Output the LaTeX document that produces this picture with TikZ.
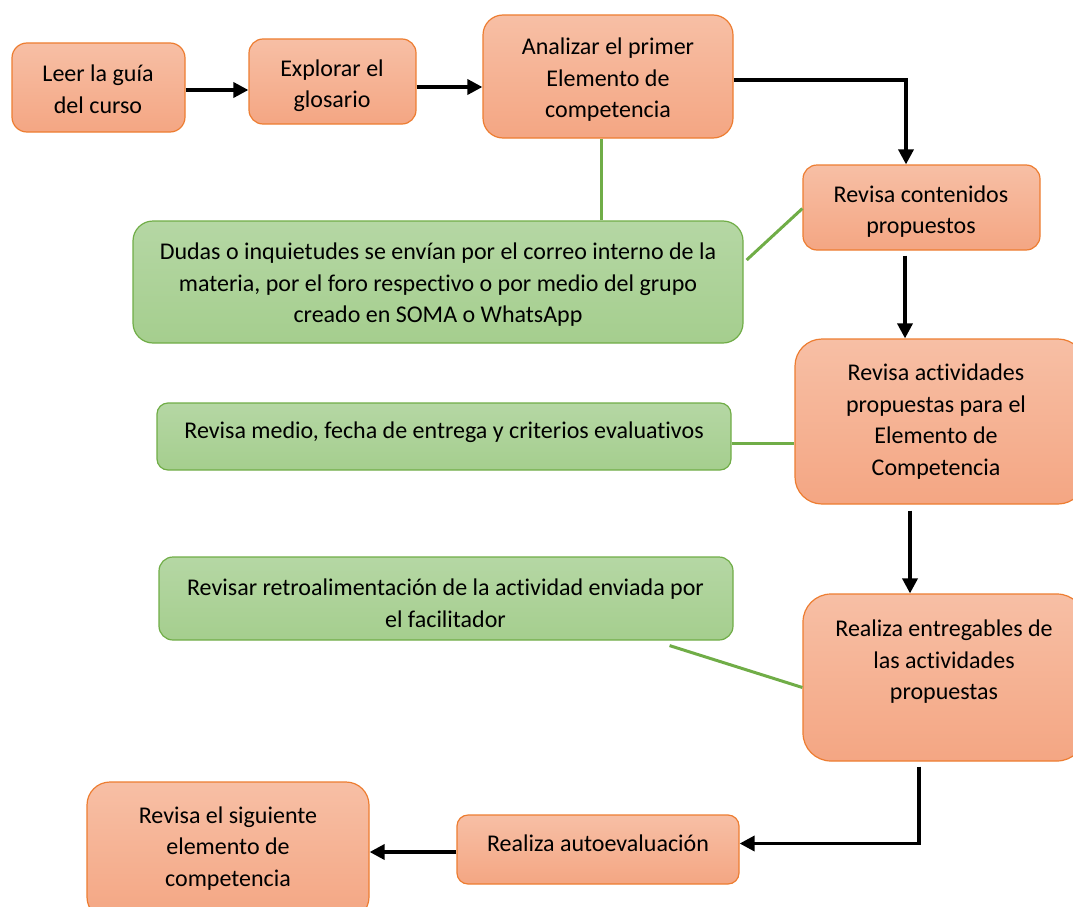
\documentclass[tikz,border=0pt]{standalone}
\usepackage{fontspec}
\setmainfont{Carlito}[Ligatures=NoCommon]
\usetikzlibrary{arrows.meta,calc}
\definecolor{obord}{HTML}{ED7D31}
\definecolor{otop}{RGB}{247,191,165}
\definecolor{obot}{RGB}{244,166,131}
\definecolor{gbord}{HTML}{70AD47}
\definecolor{gtop}{RGB}{181,215,164}
\definecolor{gbot}{RGB}{165,206,142}
\tikzset{
  obox/.style={draw=obord, line width=1.2pt, top color=otop, bottom color=obot, inner sep=0pt},
  gbox/.style={draw=gbord, line width=1.2pt, top color=gtop, bottom color=gbot, inner sep=0pt},
  txt/.style={align=center, inner sep=0pt, font=\fontsize{24}{31.5}\selectfont},
  arr/.style={line width=3.5pt, -{Triangle[length=15pt,width=15pt]}},
  gline/.style={draw=gbord, line width=3pt}
}
\begin{document}
\begin{tikzpicture}[x=1pt,y=-1pt]
\useasboundingbox (0,0) rectangle (1073,907);
\clip (0,0) rectangle (1073,907);
% boxes
\node[obox, minimum width=173pt, minimum height=89pt, rounded corners=15pt] (leer) at (98.5,87.5) {};
\node[obox, minimum width=167pt, minimum height=85pt, rounded corners=14pt] (explorar) at (332.5,81.5) {};
\node[obox, minimum width=250pt, minimum height=123pt, rounded corners=20pt] (analizar) at (608,76.5) {};
\node[obox, minimum width=237pt, minimum height=85pt, rounded corners=14pt] (contenidos) at (921.5,207.5) {};
\node[gbox, minimum width=610pt, minimum height=122pt, rounded corners=20pt] (dudas) at (438,282) {};
\node[obox, minimum width=290pt, minimum height=165pt, rounded corners=27pt] (actividades) at (940,421.5) {};
\node[gbox, minimum width=574pt, minimum height=67pt, rounded corners=11pt] (medio) at (444,436.5) {};
\node[gbox, minimum width=574pt, minimum height=83pt, rounded corners=14pt] (retro) at (446,598.5) {};
\node[obox, minimum width=282pt, minimum height=167pt, rounded corners=28pt] (entregables) at (944,677.5) {};
\node[obox, minimum width=282pt, minimum height=69pt, rounded corners=11pt] (autoeval) at (598,849.5) {};
\node[obox, minimum width=282pt, minimum height=138pt, rounded corners=23pt] (siguiente) at (228,851) {};
% texts
\node[txt] (tleer) at (98,89.5) {Leer la guía\\del curso};
\node[txt] (texplorar) at (332,85.5) {Explorar el\\glosario};
\node[txt] (tanalizar) at (608,80) {Analizar el primer\\Elemento de\\competencia};
\node[txt] (tcontenidos) at (921,211.5) {Revisa contenidos\\propuestos};
\node[txt] (tdudas) at (438,285) {Dudas o inquietudes se envían por el correo interno de la\\materia, por el foro respectivo o por medio del grupo\\creado en SOMA o WhatsApp};
\node[txt] (tactividades) at (936,421.5) {Revisa actividades\\propuestas para el\\Elemento de\\Competencia};
\node[txt] (tmedio) at (444,432) {Revisa medio, fecha de entrega y criterios evaluativos};
\node[txt] (tretro) at (445.5,603) {Revisar retroalimentación de la actividad enviada por\\el facilitador};
\node[txt] (tentregables) at (944,662) {Realiza entregables de\\las actividades\\propuestas};
\node[txt] (tautoeval) at (598,843) {Realiza autoevaluación};
\node[txt] (tsiguiente) at (228,848.5) {Revisa el siguiente\\elemento de\\competencia};
% helper coordinates
\coordinate (a1) at ([yshift=-2.5pt]leer.east);
\coordinate (a2) at ([yshift=-5.5pt]explorar.east);
\coordinate (a3) at ([yshift=-2.5pt]autoeval.west);
\coordinate (g3) at ([yshift=-7pt]medio.east);
% black arrows
\draw[arr] (a1) -- (explorar.west |- a1);
\draw[arr] (a2) -- (analizar.west |- a2);
\draw[arr] ([yshift=-3.5pt]analizar.east) -| ([xshift=-15.5pt]contenidos.north);
\draw[arr] ([xshift=-16.5pt,yshift=-5pt]contenidos.south) -- ([xshift=-16.5pt]contenidos.south |- actividades.north);
\draw[arr] ([xshift=-30pt,yshift=-6pt]actividades.south) -- ([xshift=-30pt]actividades.south |- entregables.north);
\draw[arr] ([xshift=-25pt,yshift=-5pt]entregables.south) |- ([yshift=6pt]autoeval.east);
\draw[arr] (a3) -- (siguiente.east |- a3);
% green links
\draw[gline] ([xshift=-7pt]analizar.south) -- ([xshift=-7pt]analizar.south |- dudas.north);
\draw[gline] ([yshift=-1pt]contenidos.west) -- ([xshift=3pt,yshift=22pt]dudas.east);
\draw[gline] (g3) -- (actividades.west |- g3);
\draw[gline] ([xshift=-64pt,yshift=-5pt]retro.south east) -- ([yshift=-10pt]entregables.west);
\end{tikzpicture}
\end{document}
